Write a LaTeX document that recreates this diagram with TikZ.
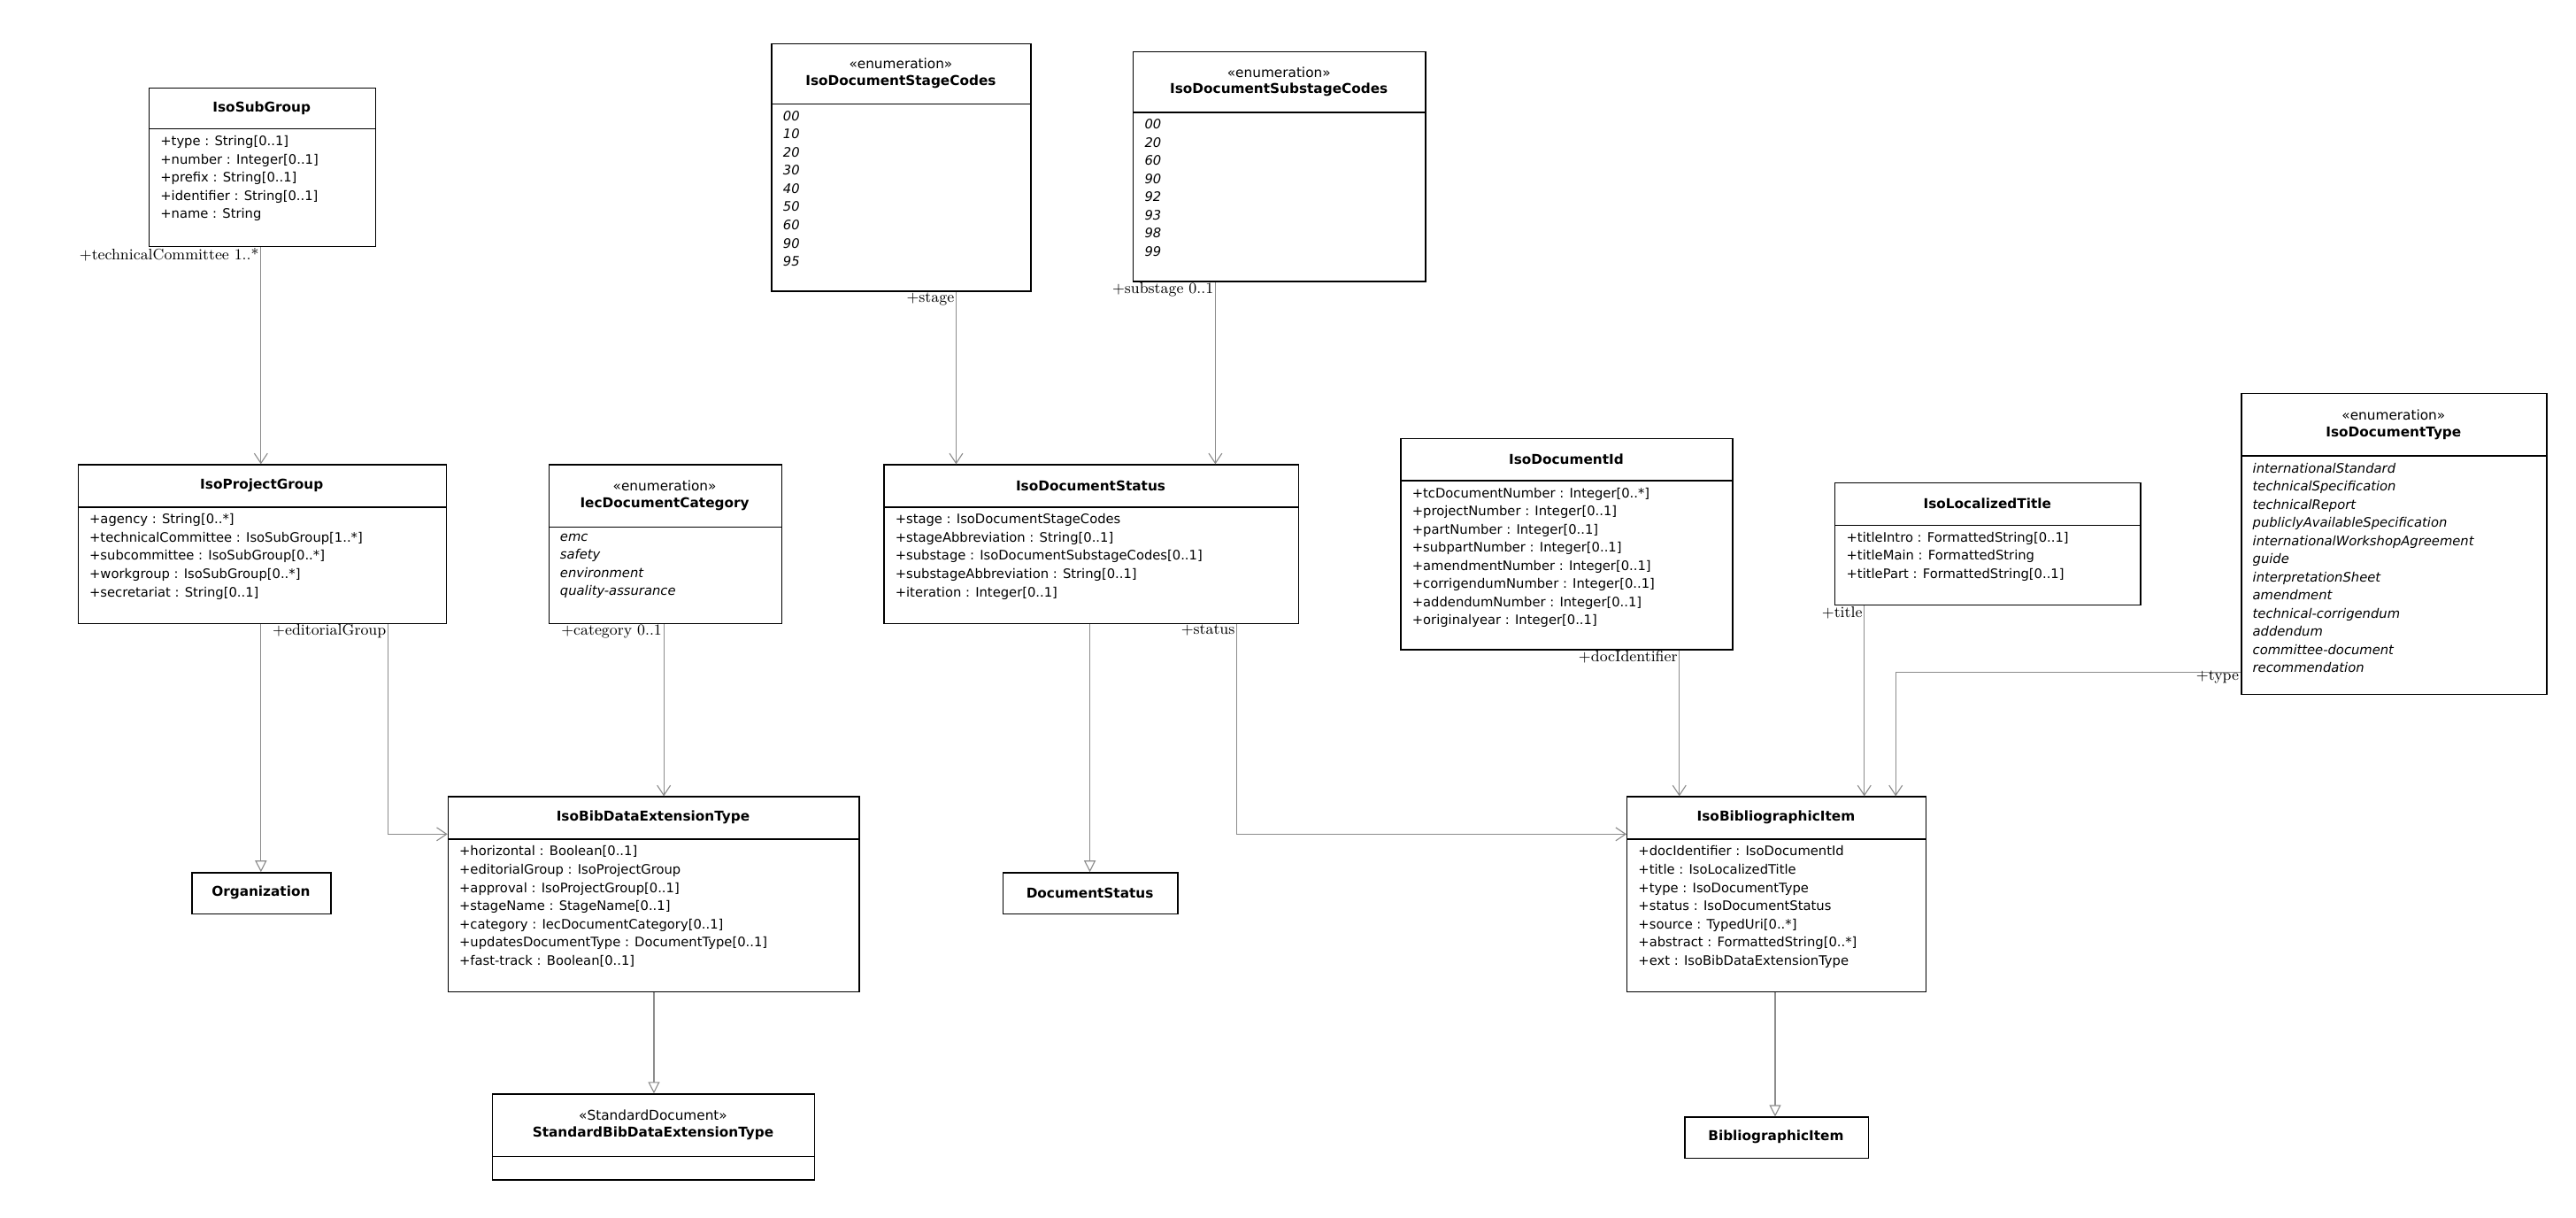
\documentclass[tikz,border=0pt]{standalone}
\usepackage{fontspec}
\setmainfont{Latin Modern Roman}
\newfontfamily\dv{DejaVu Sans}
\usetikzlibrary{arrows.meta}
\tikzset{
  box/.style={draw=black,line width=0.7pt,fill=white,inner sep=0pt,anchor=north west},
  ttl/.style={font=\dv\bfseries\fontsize{8.2}{10}\selectfont,align=center,inner sep=0pt},
  attr/.style={font=\dv\fontsize{7.9}{11}\selectfont,align=left,inner sep=0pt,anchor=north west},
  lab/.style={font=\fontsize{9.3}{10}\selectfont,inner sep=1pt},
  assoc/.style={draw=gray!90,line width=0.6pt,-{Straight Barb[length=6pt,width=8pt]}},
  gen/.style={draw=gray!90,line width=0.6pt,-{Triangle[open,length=7pt,width=7pt,fill=white]}},
}
\newcommand\umlbox[8]{%
  \node[box,minimum width=#4pt,minimum height=#5pt] (#1) at (#2,#3) {};
  \draw[line width=0.7pt] (#2,#6) -- ++(#4,0);
  \node[ttl] at ({#2+#4/2},{(#3+#6)/2}) {#7};
  \node[attr] at ({#2+7},{#6+4}) {#8};
}
\newcommand\simplebox[6]{%
  \node[box,minimum width=#4pt,minimum height=#5pt] (#1) at (#2,#3) {};
  \node[ttl] at ({#2+#4/2},{#3+#5/2}) {#6};
}
\begin{document}
\begin{tikzpicture}[x=1pt,y=-1pt]
\useasboundingbox (0,0) rectangle (1560,737);
\fill[white] (0,0) rectangle (1560,737);

\umlbox{sub}{90}{53}{137}{96}{78}{IsoSubGroup}{+type : String[0..1]\\+number : Integer[0..1]\\+prefix : String[0..1]\\+identifier : String[0..1]\\+name : String}
\umlbox{stage}{467}{26}{157}{150}{63}{{\mdseries«enumeration»}\\IsoDocumentStageCodes}{\itshape 00\\\itshape 10\\\itshape 20\\\itshape 30\\\itshape 40\\\itshape 50\\\itshape 60\\\itshape 90\\\itshape 95}
\umlbox{substage}{686}{31}{177}{139}{68}{{\mdseries«enumeration»}\\IsoDocumentSubstageCodes}{\itshape 00\\\itshape 20\\\itshape 60\\\itshape 90\\\itshape 92\\\itshape 93\\\itshape 98\\\itshape 99}
\umlbox{proj}{47}{281}{223}{96}{307}{IsoProjectGroup}{+agency : String[0..*]\\+technicalCommittee : IsoSubGroup[1..*]\\+subcommittee : IsoSubGroup[0..*]\\+workgroup : IsoSubGroup[0..*]\\+secretariat : String[0..1]}
\umlbox{iec}{332}{281}{141}{96}{319}{{\mdseries«enumeration»}\\IecDocumentCategory}{\itshape emc\\\itshape safety\\\itshape environment\\\itshape quality-assurance}
\umlbox{status}{535}{281}{251}{96}{307}{IsoDocumentStatus}{+stage : IsoDocumentStageCodes\\+stageAbbreviation : String[0..1]\\+substage : IsoDocumentSubstageCodes[0..1]\\+substageAbbreviation : String[0..1]\\+iteration : Integer[0..1]}
\umlbox{docid}{848}{265}{201}{128}{291}{IsoDocumentId}{+tcDocumentNumber : Integer[0..*]\\+projectNumber : Integer[0..1]\\+partNumber : Integer[0..1]\\+subpartNumber : Integer[0..1]\\+amendmentNumber : Integer[0..1]\\+corrigendumNumber : Integer[0..1]\\+addendumNumber : Integer[0..1]\\+originalyear : Integer[0..1]}
\umlbox{title}{1111}{292}{185}{74}{318}{IsoLocalizedTitle}{+titleIntro : FormattedString[0..1]\\+titleMain : FormattedString\\+titlePart : FormattedString[0..1]}
\umlbox{dtype}{1357}{238}{185}{182}{276}{{\mdseries«enumeration»}\\IsoDocumentType}{\itshape internationalStandard\\\itshape technicalSpecification\\\itshape technicalReport\\\itshape publiclyAvailableSpecification\\\itshape internationalWorkshopAgreement\\\itshape guide\\\itshape interpretationSheet\\\itshape amendment\\\itshape technical-corrigendum\\\itshape addendum\\\itshape committee-document\\\itshape recommendation}
\umlbox{ext}{271}{482}{249}{118}{508}{IsoBibDataExtensionType}{+horizontal : Boolean[0..1]\\+editorialGroup : IsoProjectGroup\\+approval : IsoProjectGroup[0..1]\\+stageName : StageName[0..1]\\+category : IecDocumentCategory[0..1]\\+updatesDocumentType : DocumentType[0..1]\\+fast-track : Boolean[0..1]}
\umlbox{bib}{985}{482}{181}{118}{508}{IsoBibliographicItem}{+docIdentifier : IsoDocumentId\\+title : IsoLocalizedTitle\\+type : IsoDocumentType\\+status : IsoDocumentStatus\\+source : TypedUri[0..*]\\+abstract : FormattedString[0..*]\\+ext : IsoBibDataExtensionType}
\umlbox{std}{298}{662}{195}{52}{700}{{\mdseries«StandardDocument»}\\StandardBibDataExtensionType}{}
\simplebox{org}{116}{528}{84}{25}{Organization}
\simplebox{ds}{607}{528}{106}{25}{DocumentStatus}
\simplebox{bi}{1020}{676}{111}{25}{BibliographicItem}

% associations
\draw[assoc] (sub.south -| 158,0) -- (proj.north -| 158,0);
\node[lab,anchor=north east] at (158,149) {+technicalCommittee 1..*};
\draw[assoc] (stage.south -| 579,0) -- (status.north -| 579,0);
\node[lab,anchor=north east] at (579,176) {+stage};
\draw[assoc] (substage.south -| 736,0) -- (status.north -| 736,0);
\node[lab,anchor=north east] at (736,170) {+substage 0..1};
\draw[assoc] (proj.south -| 235,0) |- (ext.west |- 0,505);
\node[lab,anchor=north east] at (235,377) {+editorialGroup};
\draw[assoc] (iec.south -| 402,0) -- (ext.north -| 402,0);
\node[lab,anchor=north east] at (402,377) {+category 0..1};
\draw[assoc] (status.south -| 749,0) |- (bib.west |- 0,505);
\node[lab,anchor=north east] at (749,377) {+status};
\draw[assoc] (docid.south -| 1017,0) -- (bib.north -| 1017,0);
\node[lab,anchor=north east] at (1017,393) {+docIdentifier};
\draw[assoc] (title.south -| 1129,0) -- (bib.north -| 1129,0);
\node[lab,anchor=north east] at (1129,366) {+title};
\draw[assoc] (dtype.west |- 0,407) -| (bib.north -| 1148,0);
\node[lab,anchor=north east] at (1357,405) {+type};
% generalizations
\draw[gen] (proj.south -| 158,0) -- (org.north -| 158,0);
\draw[gen] (status.south -| 660,0) -- (ds.north -| 660,0);
\draw[gen] (ext.south -| 396,0) -- (std.north -| 396,0);
\draw[gen] (bib.south -| 1075,0) -- (bi.north -| 1075,0);
\end{tikzpicture}
\end{document}
